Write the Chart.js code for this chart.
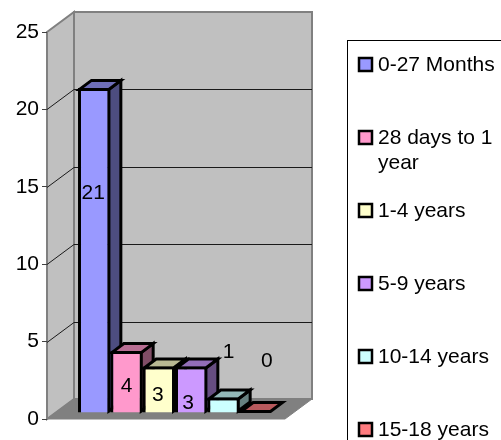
<!DOCTYPE html>
<html>
<head>
<meta charset="utf-8">
<style>html,body{margin:0;padding:0;background:#fff;overflow:hidden}#w{position:relative;width:501px;height:440px}</style>
<script src="https://cdn.jsdelivr.net/npm/chart.js@4"></script>
</head>
<body>
<div id="w"><canvas id="c" width="501" height="440"></canvas></div>
<script>
const categories = ['0-27 Months', '28 days to 1 year', '1-4 years', '5-9 years', '10-14 years', '15-18 years'];
const values = [21, 4, 3, 3, 1, 0];
const yTicks = [0, 5, 10, 15, 20, 25];
const colors = ['#9999FF', '#FF99CC', '#FFFFCC', '#CC99FF', '#CCFFFF', '#FF7C80'];
const labelOffsets = [[-1, 105], [0, 35], [-1, 29], [-3, 37], [5, -45], [11, -52]];
const FONT = '"Liberation Sans", Arial, sans-serif';
const FS = 21;
const BW = 3;
const WALL_DX = 27, WALL_DY = 20, BAR_DX = 12, BAR_DY = 9, BAR_SHIFT_Y = 6, BAR_SHIFT_X = 9;

function shade(hex, k) {
  const n = parseInt(hex.slice(1), 16);
  return 'rgb(' + Math.round((n >> 16) * k) + ',' + Math.round(((n >> 8) & 255) * k) + ',' + Math.round((n & 255) * k) + ')';
}
function poly(ctx, pts, fill, stroke, lw) {
  ctx.beginPath();
  pts.forEach((p, i) => i ? ctx.lineTo(p[0], p[1]) : ctx.moveTo(p[0], p[1]));
  ctx.closePath();
  if (fill) { ctx.fillStyle = fill; ctx.fill(); }
  if (stroke) { ctx.strokeStyle = stroke; ctx.lineWidth = lw; ctx.stroke(); }
}

const walls3d = {
  id: 'walls3d',
  beforeDraw(chart) {
    const { ctx, chartArea: a, scales: { y } } = chart;
    const L = a.left, R = a.right, T = y.getPixelForValue(25), B = y.getPixelForValue(0);
    ctx.save();
    poly(ctx, [[L + WALL_DX, T - WALL_DY], [R + WALL_DX, T - WALL_DY], [R + WALL_DX, B - WALL_DY], [L + WALL_DX, B - WALL_DY]], '#C0C0C0', '#808080', 2);
    poly(ctx, [[L, T], [L + WALL_DX, T - WALL_DY], [L + WALL_DX, B - WALL_DY], [L, B]], '#C0C0C0', '#808080', 2);
    poly(ctx, [[L, B], [R, B], [R + WALL_DX, B - WALL_DY], [L + WALL_DX, B - WALL_DY]], '#808080', '#808080', 1);
    ctx.strokeStyle = '#1a1a1a';
    ctx.lineWidth = 1;
    yTicks.slice(1, -1).forEach(v => {
      const p = Math.round(y.getPixelForValue(v)) + 0.5;
      ctx.beginPath();
      ctx.moveTo(L, p);
      ctx.lineTo(L + WALL_DX, p - WALL_DY);
      ctx.lineTo(R + WALL_DX, p - WALL_DY);
      ctx.stroke();
    });
    ctx.restore();
    // legend frame and entries
    ctx.save();
    ctx.strokeStyle = '#000';
    ctx.lineWidth = 1;
    ctx.strokeRect(347.5, 40.5, 200, 440);
    ctx.font = FS + 'px ' + FONT;
    ctx.textBaseline = 'middle';
    ctx.textAlign = 'left';
    categories.forEach((c, i) => {
      const cy = 65 + i * 73;
      ctx.fillStyle = colors[i];
      ctx.fillRect(359, cy - 7, 13, 13);
      ctx.strokeStyle = '#000';
      ctx.lineWidth = 2.5;
      ctx.strokeRect(359, cy - 7, 13, 13);
      ctx.fillStyle = '#000';
      const lines = [];
      let cur = '';
      c.split(' ').forEach(w => {
        const t = cur ? cur + ' ' + w : w;
        if (ctx.measureText(t).width > 119 && cur) { lines.push(cur); cur = w; } else cur = t;
      });
      lines.push(cur);
      lines.forEach((l, j) => ctx.fillText(l, 378, cy + j * 25));
    });
    ctx.restore();
  },
  beforeDatasetsDraw(chart) {
    const { ctx } = chart;
    ctx.save();
    ctx.translate(BAR_SHIFT_X, -BAR_SHIFT_Y);
    ctx.lineJoin = 'miter';
    categories.forEach((c, i) => {
      const b = chart.getDatasetMeta(i).data[0];
      const x0 = b.x - b.width / 2 + BW / 2, x1 = b.x + b.width / 2 - BW / 2, t = b.y + BW / 2, bt = b.base - BW / 2;
      const dx = BAR_DX, dy = BAR_DY;
      if (bt - t > 0) poly(ctx, [[x1, t], [x1 + dx, t - dy], [x1 + dx, bt - dy], [x1, bt]], shade(colors[i], 0.5), '#000', BW);
      const top = Math.min(t, bt);
      poly(ctx, [[x0, top], [x0 + dx, top - dy], [x1 + dx, top - dy], [x1, top]], shade(colors[i], 0.72), '#000', BW);
    });
    ctx.restore();
    ctx.save();
    ctx.translate(BAR_SHIFT_X, -BAR_SHIFT_Y);
  },
  afterDatasetsDraw(chart) {
    const { ctx } = chart;
    ctx.restore();
    ctx.save();
    ctx.font = FS + 'px ' + FONT;
    ctx.fillStyle = '#000';
    ctx.textAlign = 'center';
    ctx.textBaseline = 'middle';
    values.forEach((v, i) => {
      const b = chart.getDatasetMeta(i).data[0];
      ctx.fillText(String(v), b.x + BAR_SHIFT_X + labelOffsets[i][0], b.y - BAR_SHIFT_Y + labelOffsets[i][1]);
    });
    ctx.restore();
  }
};

new Chart(document.getElementById('c'), {
  type: 'bar',
  data: {
    labels: [''],
    datasets: categories.map((c, i) => ({
      label: c,
      data: [values[i]],
      backgroundColor: colors[i],
      borderColor: '#000',
      borderWidth: BW,
      clip: false
    }))
  },
  options: {
    responsive: false,
    animation: false,
    categoryPercentage: 0.815,
    barPercentage: 1,
    layout: { padding: { top: 32, bottom: 21, left: 0, right: 216 } },
    plugins: { legend: { display: false }, tooltip: { enabled: false }, title: { display: false } },
    scales: {
      x: { display: false },
      y: {
        min: 0, max: 25,
        afterFit(s) { s.width = 47; },
        border: { display: false },
        grid: { drawOnChartArea: false, drawTicks: true, tickLength: 5, tickColor: '#404040' },
        ticks: { stepSize: 5, padding: 3, color: '#000', font: { family: FONT, size: FS } }
      }
    }
  },
  plugins: [walls3d]
});
</script>
</body>
</html>
